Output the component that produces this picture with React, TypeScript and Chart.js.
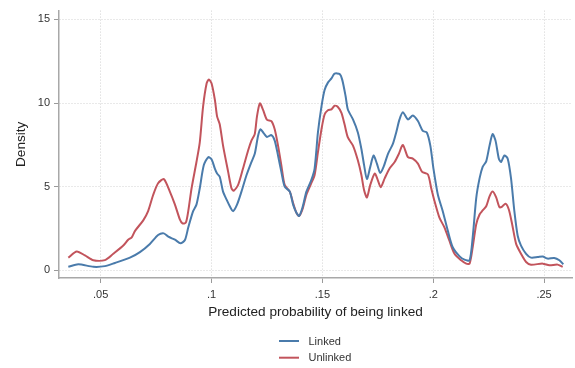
import { useEffect, useRef } from 'react';
import { Chart, registerables } from 'chart.js';

Chart.register(...registerables);

// Kernel density of predicted linkage probability, linked records
const linkedX = [
  0.0354, 0.0399, 0.0467, 0.0519, 0.0564, 0.0632, 0.0677, 0.0722, 0.0759, 0.0785,
  0.0805, 0.0835, 0.0860, 0.0880, 0.0895, 0.0917, 0.0932, 0.0947, 0.0965, 0.0985,
  0.1000, 0.1015, 0.1025, 0.1037, 0.1052, 0.1068, 0.1086, 0.1097, 0.1115, 0.1135,
  0.1158, 0.1180, 0.1195, 0.1210, 0.1221, 0.1236, 0.1250, 0.1270, 0.1285, 0.1300,
  0.1315, 0.1330, 0.1353, 0.1368, 0.1383, 0.1395, 0.1410, 0.1428, 0.1450, 0.1465,
  0.1480, 0.1496, 0.1510, 0.1525, 0.1541, 0.1555, 0.1578, 0.1590, 0.1605, 0.1615,
  0.1638, 0.1660, 0.1676, 0.1688, 0.1701, 0.1716, 0.1731, 0.1746, 0.1761, 0.1776,
  0.1796, 0.1818, 0.1833, 0.1848, 0.1863, 0.1886, 0.1908, 0.1931, 0.1953, 0.1971,
  0.1987, 0.2001, 0.2021, 0.2043, 0.2066, 0.2088, 0.2118, 0.2141, 0.2164, 0.2178,
  0.2194, 0.2209, 0.2223, 0.2239, 0.2254, 0.2268, 0.2281, 0.2296, 0.2306, 0.2321,
  0.2336, 0.2351, 0.2366, 0.2381, 0.2396, 0.2419, 0.2441, 0.2471, 0.2494, 0.2516,
  0.2546, 0.2569, 0.2587,
];
const linkedY = [
  0.2, 0.35, 0.2, 0.24, 0.43, 0.75, 1.08, 1.57, 2.1, 2.2,
  2.0, 1.82, 1.61, 1.8, 2.55, 3.53, 3.92, 4.9, 6.27, 6.76,
  6.63, 6.08, 5.78, 5.59, 4.7, 4.22, 3.73, 3.53, 3.92, 4.7,
  5.69, 6.47, 6.96, 8.04, 8.43, 8.18, 7.97, 8.08, 7.75, 6.86,
  5.88, 5.0, 4.7, 3.92, 3.43, 3.24, 3.73, 4.7, 5.39, 6.08,
  8.24, 9.8, 10.78, 11.22, 11.47, 11.76, 11.73, 11.37, 10.39, 9.61,
  9.02, 8.24, 7.25, 6.3, 5.45, 6.18, 6.86, 6.37, 5.82, 6.18,
  6.96, 7.55, 8.24, 9.02, 9.45, 9.02, 9.25, 8.92, 8.33, 8.24,
  7.45, 6.08, 4.51, 3.53, 2.35, 1.37, 0.84, 0.63, 0.59, 1.96,
  4.31, 5.49, 6.18, 6.51, 7.45, 8.14, 7.75, 6.67, 6.47, 6.86,
  6.67, 5.49, 3.53, 2.06, 1.47, 0.98, 0.75, 0.78, 0.82, 0.69,
  0.73, 0.59, 0.35,
];

// Kernel density of predicted linkage probability, unlinked records
const unlinkedX = [
  0.0354, 0.0392, 0.0429, 0.0467, 0.0519, 0.0557, 0.0602, 0.0624, 0.0640, 0.0655,
  0.0692, 0.0714, 0.0737, 0.0759, 0.0785, 0.0812, 0.0835, 0.0857, 0.0869, 0.0884,
  0.0895, 0.0910, 0.0932, 0.0947, 0.0962, 0.0978, 0.0988, 0.1000, 0.1015, 0.1025,
  0.1037, 0.1052, 0.1075, 0.1090, 0.1100, 0.1120, 0.1142, 0.1165, 0.1180, 0.1195,
  0.1205, 0.1218, 0.1232, 0.1250, 0.1270, 0.1285, 0.1300, 0.1315, 0.1330, 0.1353,
  0.1368, 0.1383, 0.1395, 0.1410, 0.1428, 0.1450, 0.1465, 0.1480, 0.1496, 0.1510,
  0.1525, 0.1541, 0.1555, 0.1570, 0.1586, 0.1600, 0.1615, 0.1638, 0.1660, 0.1676,
  0.1688, 0.1701, 0.1716, 0.1736, 0.1750, 0.1763, 0.1781, 0.1803, 0.1826, 0.1845,
  0.1863, 0.1886, 0.1908, 0.1931, 0.1950, 0.1976, 0.1991, 0.2006, 0.2028, 0.2051,
  0.2073, 0.2096, 0.2126, 0.2149, 0.2164, 0.2178, 0.2194, 0.2209, 0.2223, 0.2239,
  0.2254, 0.2268, 0.2284, 0.2299, 0.2311, 0.2326, 0.2341, 0.2356, 0.2374, 0.2396,
  0.2419, 0.2441, 0.2494, 0.2524, 0.2561, 0.2584,
];
const unlinkedY = [
  0.75, 1.12, 0.88, 0.59, 0.6, 0.98, 1.47, 1.82, 1.96, 2.35,
  2.98, 3.53, 4.51, 5.2, 5.45, 4.7, 3.92, 3.04, 2.8, 2.84,
  3.53, 4.9, 6.47, 7.65, 9.8, 11.18, 11.41, 11.18, 10.2, 9.2,
  8.73, 7.45, 5.88, 4.9, 4.75, 5.1, 6.08, 7.16, 7.75, 8.14,
  9.2, 9.98, 9.6, 9.0, 8.92, 8.43, 7.45, 6.27, 5.1, 4.7,
  4.02, 3.43, 3.24, 3.63, 4.51, 5.2, 5.69, 7.06, 8.43, 9.31,
  9.57, 9.62, 9.84, 9.76, 9.41, 8.73, 7.94, 7.45, 6.57, 5.69,
  4.8, 4.35, 5.1, 5.78, 5.39, 4.96, 5.49, 6.08, 6.47, 6.96,
  7.49, 6.76, 6.67, 6.37, 5.88, 5.73, 4.9, 4.12, 3.14, 2.55,
  1.76, 0.98, 0.59, 0.39, 0.39, 1.37, 2.75, 3.33, 3.57, 3.82,
  4.41, 4.7, 4.35, 3.76, 3.8, 3.98, 3.63, 2.75, 1.57, 0.98,
  0.49, 0.33, 0.39, 0.29, 0.33, 0.2,
];

const xTicks = [0.05, 0.1, 0.15, 0.2, 0.25];
const xTickLabels = ['.05', '.1', '.15', '.2', '.25'];
const yTicks = [0, 5, 10, 15];

const seriesNames = ['Linked', 'Unlinked'];
const seriesColors = ['#4a7bab', '#c2545c'];

const FONT = "'Liberation Sans', Arial, sans-serif";

const toPoints = (xs: number[], ys: number[]) => xs.map((x, i) => ({ x, y: ys[i] }));

// Stacked legend centred under the plot
const stackedLegend = {
  id: 'stackedLegend',
  afterDraw(chart: any) {
    const { ctx, chartArea } = chart;
    const cx = (chartArea.left + chartArea.right) / 2;
    ctx.save();
    ctx.font = `11px ${FONT}`;
    ctx.textBaseline = 'middle';
    ctx.textAlign = 'left';
    chart.data.datasets.forEach((ds: any, i: number) => {
      const y = chartArea.bottom + 63 + i * 16.7;
      ctx.strokeStyle = ds.borderColor;
      ctx.lineWidth = 2;
      ctx.beginPath();
      ctx.moveTo(cx - 36.5, y);
      ctx.lineTo(cx - 16.5, y);
      ctx.stroke();
      ctx.fillStyle = '#333';
      ctx.fillText(ds.label, cx - 7, y + 0.5);
    });
    ctx.restore();
  },
};

const gridStyle = {
  color: '#d2d2d2',
  lineWidth: 1,
  tickColor: '#9a9a9a',
  tickLength: 5,
  tickWidth: 1,
};

export default function App() {
  const canvasRef = useRef<HTMLCanvasElement | null>(null);

  useEffect(() => {
    if (!canvasRef.current) return;
    const chart = new Chart(canvasRef.current, {
      type: 'line',
      data: {
        datasets: [
          {
            label: seriesNames[0],
            data: toPoints(linkedX, linkedY),
            borderColor: seriesColors[0],
            borderWidth: 2,
            pointRadius: 0,
            tension: 0.25,
            fill: false,
          },
          {
            label: seriesNames[1],
            data: toPoints(unlinkedX, unlinkedY),
            borderColor: seriesColors[1],
            borderWidth: 2,
            pointRadius: 0,
            tension: 0.25,
            fill: false,
          },
        ],
      },
      options: {
        animation: false,
        responsive: false,
        devicePixelRatio: 1,
        layout: { padding: { left: 0, right: 3, top: 6, bottom: 47 } },
        plugins: {
          legend: { display: false },
          tooltip: { enabled: false },
        },
        scales: {
          x: {
            type: 'linear',
            min: 0.0312,
            max: 0.2626,
            afterBuildTicks: (scale: any) => {
              scale.ticks = xTicks.map((v) => ({ value: v }));
            },
            afterFit: (scale: any) => {
              scale.height = 43;
            },
            ticks: {
              autoSkip: false,
              maxRotation: 0,
              padding: 5,
              color: '#333',
              font: { family: FONT, size: 11 },
              callback: (v: any) => {
                const i = xTicks.findIndex((t) => Math.abs(t - Number(v)) < 1e-9);
                return i >= 0 ? xTickLabels[i] : '';
              },
            },
            grid: gridStyle,
            border: { color: '#a8a8a8', width: 1.5, dash: [1, 2] },
            title: {
              display: true,
              text: 'Predicted probability of being linked',
              color: '#222',
              font: { family: FONT, size: 13.6 },
              padding: { top: 0, bottom: 1 },
            },
          },
          y: {
            type: 'linear',
            min: -0.47,
            max: 15.53,
            afterBuildTicks: (scale: any) => {
              scale.ticks = yTicks.map((v) => ({ value: v }));
            },
            afterFit: (scale: any) => {
              scale.width = 59;
            },
            ticks: {
              padding: 4,
              color: '#333',
              font: { family: FONT, size: 11 },
              callback: (v: any) => String(v),
            },
            grid: gridStyle,
            border: { color: '#a8a8a8', width: 1.5, dash: [1, 2] },
            title: {
              display: true,
              text: 'Density',
              color: '#222',
              font: { family: FONT, size: 13.6 },
              padding: { top: 13, bottom: 0 },
            },
          },
        },
      },
      plugins: [stackedLegend],
    });
    return () => chart.destroy();
  }, []);

  return (
    <div style={{ position: 'absolute', left: 0, top: 0, width: 575, height: 368, background: '#fff' }}>
      <canvas ref={canvasRef} width={575} height={368} />
    </div>
  );
}
